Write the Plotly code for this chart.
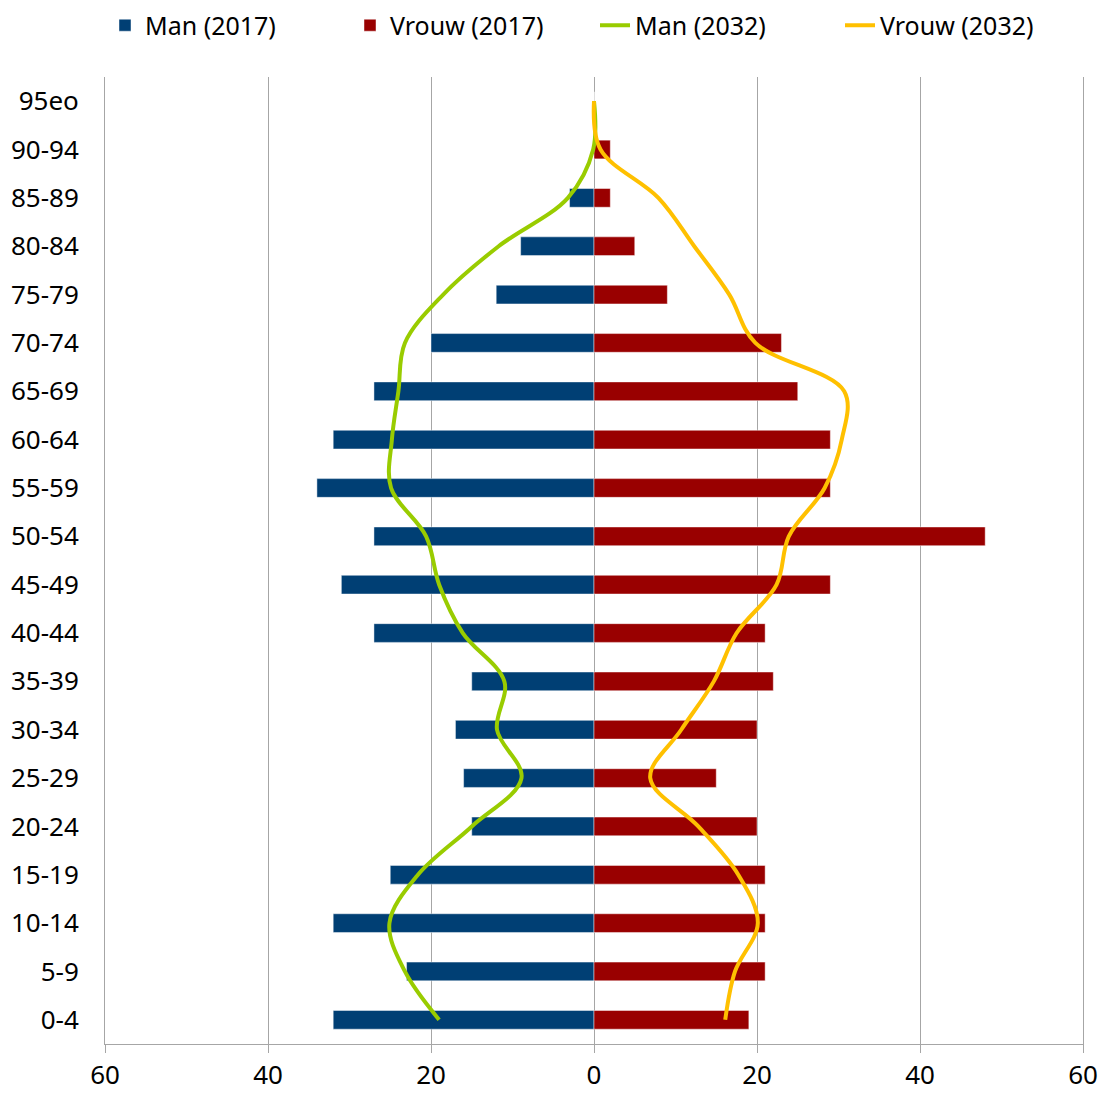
import plotly.graph_objects as go

categories = ["0-4", "5-9", "10-14", "15-19", "20-24", "25-29", "30-34", "35-39",
              "40-44", "45-49", "50-54", "55-59", "60-64", "65-69", "70-74",
              "75-79", "80-84", "85-89", "90-94", "95eo"]

man_2017 = [32, 23, 32, 25, 15, 16, 17, 15, 27, 31, 27, 34, 32, 27, 20, 12, 9, 3, 0, 0]
vrouw_2017 = [19, 21, 21, 21, 20, 15, 20, 22, 21, 29, 48, 29, 29, 25, 23, 9, 5, 2, 2, 0]
man_2032 = [19, 23.2, 25.1, 21.6, 15, 8.9, 11.9, 11, 16.1, 19, 20.6, 24.9, 24.8, 24,
            23.2, 18.5, 11.7, 3.2, 0.1, 0]
vrouw_2032 = [16.1, 17.3, 20.1, 17.7, 12.8, 6.9, 10.7, 14.7, 17.5, 22.4, 23.9, 28.3,
              30.4, 30.7, 19.8, 16.6, 12.3, 7.9, 0.8, 0]

x_ticks = [-60, -40, -20, 0, 20, 40, 60]
x_tick_labels = ["60", "40", "20", "0", "20", "40", "60"]

FONT = "Noto Sans, Open Sans, sans-serif"
GRAY = "#A6A6A6"

fig = go.Figure()
fig.add_trace(go.Bar(
    name="Man (2017)", y=categories, x=[-v for v in man_2017], orientation="h",
    marker=dict(color="#003F74", line=dict(color="rgba(255,255,255,0.45)", width=1)),
))
fig.add_trace(go.Bar(
    name="Vrouw (2017)", y=categories, x=vrouw_2017, orientation="h",
    marker=dict(color="#990000", line=dict(color="rgba(255,255,255,0.45)", width=1)),
))
fig.add_trace(go.Scatter(
    name="Man (2032)", y=categories, x=[-v for v in man_2032], mode="lines",
    line=dict(color="#99CC00", width=4, shape="spline", smoothing=1.0),
))
fig.add_trace(go.Scatter(
    name="Vrouw (2032)", y=categories, x=vrouw_2032, mode="lines",
    line=dict(color="#FFC000", width=4, shape="spline", smoothing=1.0),
))

# page body has an 8px margin; the figure is sized so the plot lands where the reference has it
fig.update_layout(
    width=1099, height=1092,
    margin=dict(l=97, r=24, t=69, b=56, autoexpand=False),
    paper_bgcolor="white", plot_bgcolor="white",
    barmode="relative", bargap=0.613,
    font=dict(family=FONT, size=26, color="#000000"),
    showlegend=True,
    legend=dict(orientation="h", x=0.0, xanchor="left", y=1.0533, yanchor="middle",
                entrywidth=200, entrywidthmode="pixels",
                font=dict(family=FONT, size=25), traceorder="normal"),
    xaxis=dict(range=[-60, 60], tickmode="array", tickvals=x_ticks, ticktext=x_tick_labels,
               showgrid=True, gridcolor=GRAY, gridwidth=1,
               zeroline=True, zerolinecolor=GRAY, zerolinewidth=1,
               showline=True, linecolor=GRAY, linewidth=1,
               ticks="outside", ticklen=8, tickcolor=GRAY,
               tickfont=dict(family=FONT, size=26), fixedrange=True),
    yaxis=dict(type="category", categoryorder="array", categoryarray=categories,
               range=[-0.5, 19.5], showgrid=False, zeroline=False,
               showline=True, mirror=True, linecolor=GRAY, linewidth=1,
               ticks="", ticklabelstandoff=20,
               tickfont=dict(family=FONT, size=26)),
    yaxis2=dict(overlaying="y", anchor="free", position=0.5, side="left",
                range=[-0.5, 19.5], type="linear",
                tickmode="array", tickvals=[i - 0.5 for i in range(len(categories) + 1)],
                ticks="outside", ticklen=9, tickcolor=GRAY, showticklabels=False,
                showgrid=False, zeroline=False, showline=False),
)

fig.write_html("out.html")
